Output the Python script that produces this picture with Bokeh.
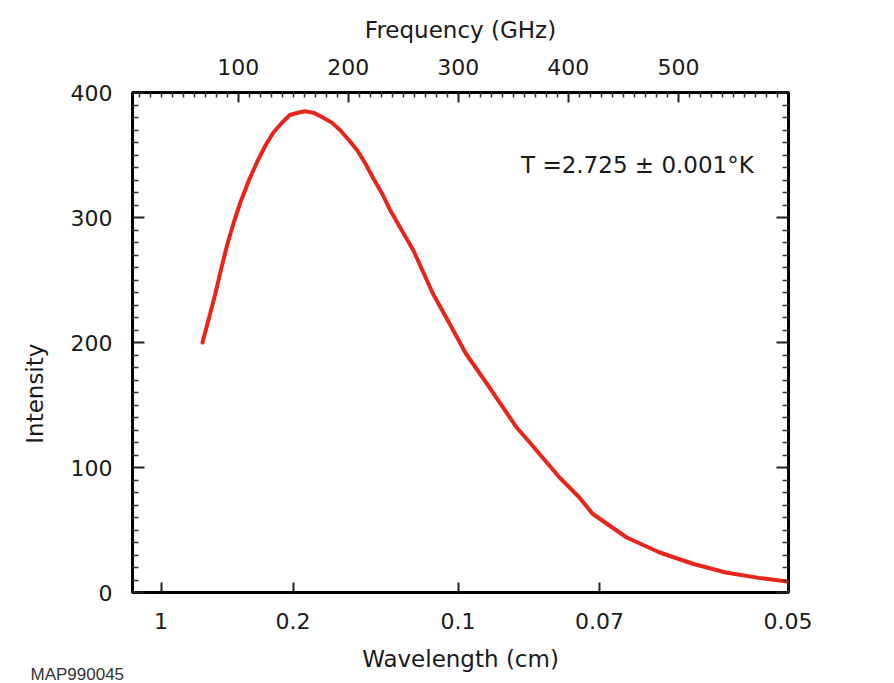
from bokeh.plotting import figure
from bokeh.models import LinearAxis, FixedTicker, Label, Range1d, CustomJSTickFormatter, Title
from bokeh.embed import file_html
from bokeh.resources import INLINE

# ---- data ----
freq_ghz = [67.6, 73.3, 79, 84.6, 90, 96, 102, 109.7, 117, 124.8, 132, 140, 147,
            155, 161, 168.7, 177, 185.4, 192.5, 200.5, 208, 215.7, 223, 230.9, 238,
            259, 277, 289, 307, 326, 353, 362, 392, 410, 422, 453, 483, 513,
            543, 573, 599]
intensity = [200, 219, 238, 259, 278, 296, 312, 329.6, 344, 357.6, 368, 376, 382,
             384, 385, 383.7, 380, 375.7, 370, 362, 354, 343, 331, 319, 306,
             274, 239, 220, 191, 167, 132, 123, 92, 76, 63, 44, 32, 23,
             16, 11.7, 8.8]

freq_ticks = [100, 200, 300, 400, 500]
freq_minor = [f for f in range(10, 600, 10) if f % 100 != 0]
intensity_ticks = [0, 100, 200, 300, 400]
intensity_minor = [v for v in range(10, 400, 10) if v % 100 != 0]
wavelength_ticks_cm = [1, 0.2, 0.1, 0.07, 0.05]
wavelength_labels = ["1", "0.2", "0.1", "0.07", "0.05"]
C_CM_GHZ = 29.9792458  # speed of light, cm * GHz
wl_pos = [C_CM_GHZ / w for w in wavelength_ticks_cm]

FONT = "DejaVu Sans"
TICK_SIZE = "22px"
LABEL_SIZE = "23px"

p = figure(width=894, height=683, output_backend="svg", toolbar_location=None,
           x_range=Range1d(4, 600), y_range=Range1d(0, 400),
           x_axis_location=None, y_axis_location=None,
           min_border_left=132, min_border_right=106,
           min_border_top=92, min_border_bottom=91)
p.grid.visible = False
p.outline_line_color = "black"
p.outline_line_width = 3
p.background_fill_color = "white"
p.border_fill_color = "white"


def style(ax, major_len=10, minor_len=5):
    ax.axis_line_color = None
    ax.major_tick_in = major_len
    ax.major_tick_out = 0
    ax.minor_tick_in = minor_len
    ax.minor_tick_out = 0
    ax.major_tick_line_color = "#222222"
    ax.major_tick_line_width = 2
    ax.minor_tick_line_color = "#333333"
    ax.minor_tick_line_width = 1.5
    ax.major_label_text_font = FONT
    ax.major_label_text_font_size = TICK_SIZE
    ax.major_label_text_color = "#1a1a1a"
    ax.axis_label_text_font = FONT
    ax.axis_label_text_font_size = LABEL_SIZE
    ax.axis_label_text_font_style = "normal"
    ax.axis_label_text_color = "#1a1a1a"


blank = CustomJSTickFormatter(code="return ''")

# left axis
left = LinearAxis(ticker=FixedTicker(ticks=intensity_ticks, minor_ticks=intensity_minor),
                  axis_label="Intensity" + "\u00a0" * 14)
style(left, 12, 6)
left.major_label_standoff = 20
left.axis_label_standoff = 20
p.add_layout(left, "left")

# right axis (ticks only)
right = LinearAxis(ticker=FixedTicker(ticks=intensity_ticks, minor_ticks=intensity_minor),
                   formatter=blank)
style(right, 12, 6)
p.add_layout(right, "right")

# top axis: frequency
top = LinearAxis(ticker=FixedTicker(ticks=freq_ticks, minor_ticks=freq_minor),
                 axis_label="Frequency (GHz)")
style(top, 10, 5)
top.major_label_standoff = 18
top.axis_label_standoff = 13
p.add_layout(top, "above")

# bottom axis: wavelength
wl_fmt = CustomJSTickFormatter(args=dict(pos=wl_pos, lab=wavelength_labels), code="""
    for (let i = 0; i < pos.length; i++) {
        if (Math.abs(pos[i] - tick) < 1e-6) { return lab[i]; }
    }
    return '';
""")
bottom = LinearAxis(ticker=FixedTicker(ticks=wl_pos, minor_ticks=[]),
                    formatter=wl_fmt, axis_label="Wavelength (cm)")
style(bottom, 10, 0)
bottom.major_label_standoff = 20
bottom.axis_label_standoff = 14
p.add_layout(bottom, "below")

# figure id in the bottom-left corner
p.add_layout(Title(text="MAP990045", align="left", offset=-102, standoff=-19,
                   vertical_align="top", text_font="Liberation Sans",
                   text_font_size="17px", text_font_style="normal",
                   text_color="#333333"), "below")

# curve
p.line(freq_ghz, intensity, line_color="#e8251a", line_width=4, line_join="round",
       line_cap="round")

# annotation
p.add_layout(Label(x=357, y=342, text="T =2.725 \u00b1 0.001\u00b0K",
                   text_font=FONT, text_font_size=LABEL_SIZE, text_color="#1a1a1a",
                   text_baseline="middle", text_align="left"))

open("out.html", "w").write(file_html(p, INLINE))
